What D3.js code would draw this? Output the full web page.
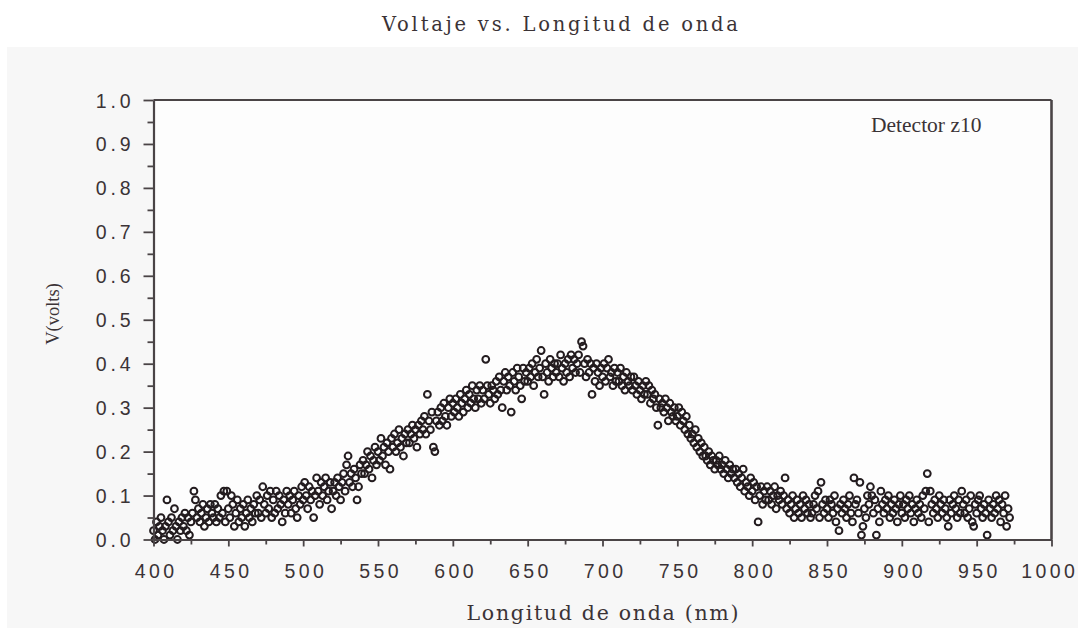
<!DOCTYPE html>
<html>
<head>
<meta charset="utf-8">
<script src="https://cdn.jsdelivr.net/npm/d3@7"></script>
<style>
  html, body { margin: 0; padding: 0; background: #ffffff; }
  svg { display: block; }
</style>
</head>
<body>
<svg id="chart" width="1078" height="628"></svg>
<script>
// Spectral scan: detector voltage sampled every nanometre starting at 400 nm
const scanStart = 400;
const scanStep = 1;

// Measured voltage (V), one row per 10 nm
const voltage = [
  0.02,0.00,0.04,0.01,0.03,0.05,0.02,0.00,0.03,0.09,
  0.04,0.01,0.05,0.02,0.07,0.03,0.00,0.04,0.02,0.05,
  0.03,0.06,0.02,0.05,0.01,0.04,0.06,0.11,0.09,0.05,
  0.07,0.04,0.06,0.08,0.03,0.05,0.07,0.04,0.08,0.06,
  0.05,0.08,0.04,0.07,0.05,0.10,0.06,0.11,0.04,0.11,
  0.07,0.05,0.10,0.08,0.03,0.06,0.09,0.04,0.07,0.05,
  0.08,0.03,0.06,0.09,0.05,0.07,0.04,0.08,0.06,0.10,
  0.06,0.09,0.05,0.12,0.08,0.06,0.10,0.07,0.11,0.05,
  0.09,0.06,0.11,0.07,0.10,0.08,0.04,0.09,0.06,0.11,
  0.08,0.10,0.06,0.09,0.11,0.07,0.05,0.10,0.08,0.12,
  0.09,0.13,0.10,0.07,0.12,0.09,0.11,0.05,0.10,0.14,
  0.11,0.08,0.13,0.10,0.12,0.14,0.09,0.11,0.13,0.07,
  0.11,0.13,0.10,0.14,0.12,0.09,0.13,0.15,0.11,0.17,
  0.19,0.13,0.15,0.12,0.16,0.14,0.09,0.12,0.17,0.15,
  0.18,0.15,0.17,0.20,0.16,0.19,0.14,0.18,0.21,0.17,
  0.20,0.18,0.23,0.19,0.21,0.17,0.22,0.20,0.16,0.23,
  0.21,0.24,0.20,0.22,0.25,0.21,0.23,0.19,0.24,0.22,
  0.25,0.22,0.24,0.26,0.23,0.25,0.21,0.26,0.24,0.27,
  0.25,0.28,0.24,0.33,0.27,0.25,0.29,0.21,0.20,0.27,
  0.29,0.26,0.30,0.27,0.31,0.28,0.26,0.30,0.32,0.28,
  0.31,0.29,0.32,0.30,0.28,0.33,0.31,0.29,0.32,0.34,
  0.30,0.33,0.31,0.35,0.32,0.30,0.34,0.32,0.35,0.31,
  0.34,0.32,0.41,0.35,0.33,0.31,0.35,0.34,0.32,0.36,
  0.33,0.37,0.34,0.30,0.36,0.38,0.34,0.37,0.35,0.29,
  0.38,0.36,0.34,0.39,0.37,0.35,0.32,0.39,0.36,0.38,
  0.36,0.39,0.37,0.40,0.35,0.38,0.41,0.37,0.39,0.43,
  0.37,0.33,0.40,0.38,0.36,0.41,0.39,0.37,0.40,0.38,
  0.40,0.37,0.42,0.39,0.36,0.40,0.38,0.41,0.37,0.42,
  0.39,0.41,0.38,0.40,0.42,0.38,0.45,0.44,0.40,0.37,
  0.41,0.38,0.40,0.33,0.39,0.36,0.40,0.38,0.35,0.39,
  0.37,0.40,0.36,0.39,0.41,0.37,0.38,0.35,0.39,0.36,
  0.38,0.36,0.39,0.35,0.37,0.34,0.38,0.36,0.35,0.37,
  0.34,0.37,0.35,0.33,0.36,0.34,0.32,0.35,0.33,0.36,
  0.33,0.35,0.31,0.34,0.32,0.33,0.30,0.26,0.32,0.30,
  0.31,0.29,0.32,0.30,0.27,0.31,0.29,0.28,0.30,0.27,
  0.28,0.30,0.26,0.29,0.27,0.25,0.28,0.24,0.26,0.23,
  0.24,0.22,0.25,0.21,0.23,0.20,0.22,0.19,0.21,0.19,
  0.18,0.20,0.17,0.19,0.18,0.16,0.18,0.17,0.19,0.16,
  0.17,0.15,0.18,0.16,0.14,0.17,0.15,0.16,0.14,0.16,
  0.13,0.15,0.12,0.14,0.16,0.11,0.13,0.12,0.10,0.14,
  0.11,0.13,0.09,0.12,0.04,0.10,0.12,0.08,0.11,0.09,
  0.12,0.09,0.11,0.08,0.10,0.12,0.07,0.10,0.09,0.11,
  0.08,0.10,0.14,0.07,0.09,0.06,0.08,0.10,0.05,0.07,
  0.09,0.06,0.08,0.05,0.10,0.07,0.09,0.06,0.08,0.05,
  0.06,0.08,0.10,0.07,0.11,0.05,0.13,0.08,0.06,0.09,
  0.07,0.05,0.09,0.08,0.06,0.10,0.04,0.07,0.02,0.08,
  0.06,0.09,0.07,0.05,0.08,0.10,0.06,0.04,0.14,0.08,
  0.09,0.06,0.13,0.01,0.03,0.07,0.05,0.10,0.08,0.12,
  0.10,0.06,0.09,0.01,0.07,0.04,0.11,0.08,0.06,0.09,
  0.07,0.10,0.05,0.08,0.06,0.09,0.07,0.04,0.08,0.10,
  0.06,0.08,0.05,0.09,0.07,0.10,0.06,0.08,0.04,0.07,
  0.09,0.06,0.08,0.05,0.10,0.07,0.11,0.15,0.04,0.11,
  0.08,0.06,0.09,0.07,0.05,0.10,0.08,0.06,0.09,0.07,
  0.05,0.03,0.09,0.06,0.08,0.10,0.07,0.05,0.09,0.06,
  0.11,0.08,0.06,0.09,0.05,0.07,0.10,0.04,0.03,0.08,
  0.06,0.09,0.10,0.07,0.05,0.08,0.06,0.01,0.09,0.07,
  0.05,0.08,0.06,0.10,0.07,0.09,0.04,0.08,0.06,0.10,
  0.03,0.07,0.05
];

// Axis ticks
const xMajorTicks = [400, 450, 500, 550, 600, 650, 700, 750, 800, 850, 900, 950, 1000];
const xMinorTicks = [425, 475, 525, 575, 625, 675, 725, 775, 825, 875, 925, 975];
const yMajorTicks = [0.0, 0.1, 0.2, 0.3, 0.4, 0.5, 0.6, 0.7, 0.8, 0.9, 1.0];
const yMinorTicks = [0.05, 0.15, 0.25, 0.35, 0.45, 0.55, 0.65, 0.75, 0.85, 0.95];

// Texts
const chartTitle = "Voltaje vs. Longitud de onda";
const xTitle = "Longitud de onda (nm)";
const yTitle = "V(volts)";
const seriesLabel = "Detector z10";

const points = voltage.map((v, i) => ({ nm: scanStart + i * scanStep, v }));

const svg = d3.select("#chart");
const plot = { left: 153.5, right: 1051.5, top: 100, bottom: 539.5 };
const ink = "#3b3336";
const axisInk = "#4a4446";

const x = d3.scaleLinear().domain([400, 1000]).range([plot.left, plot.right]);
const y = d3.scaleLinear().domain([0, 1]).range([plot.bottom, plot.top]);

// Widen the gaps between glyphs without adding trailing space after the last one
function spreadLetters(selection, gap) {
  selection.each(function () {
    const n = this.textContent.length;
    const w = this.getComputedTextLength();
    d3.select(this)
      .attr("textLength", w + (n - 1) * gap)
      .attr("lengthAdjust", "spacing");
  });
}

// Panel and plotting area backgrounds
svg.append("rect").attr("x", 7).attr("y", 47).attr("width", 1071).attr("height", 581)
  .attr("fill", "#f7f7f7");
svg.append("rect")
  .attr("x", plot.left).attr("y", plot.top)
  .attr("width", plot.right - plot.left).attr("height", plot.bottom - plot.top)
  .attr("fill", "#fdfdfd");

// Scatter of open circles
svg.append("g")
  .selectAll("circle")
  .data(points)
  .join("circle")
  .attr("cx", d => x(d.nm))
  .attr("cy", d => y(d.v))
  .attr("r", 3.4)
  .attr("fill", "none")
  .attr("stroke", "#231c1f")
  .attr("stroke-width", 2);

// Frame: top and right border lines
svg.append("line")
  .attr("x1", plot.left).attr("x2", plot.right)
  .attr("y1", plot.top).attr("y2", plot.top)
  .attr("stroke", axisInk).attr("stroke-width", 2.2);
svg.append("line")
  .attr("x1", plot.right).attr("x2", plot.right)
  .attr("y1", plot.top).attr("y2", plot.bottom)
  .attr("stroke", axisInk).attr("stroke-width", 2.6);

// X axis
const xAxis = svg.append("g")
  .attr("transform", `translate(0,${plot.bottom})`)
  .call(d3.axisBottom(x).tickValues(xMajorTicks).tickSize(7).tickSizeOuter(0)
    .tickFormat(d3.format("d")));
svg.append("g")
  .attr("transform", `translate(0,${plot.bottom})`)
  .call(d3.axisBottom(x).tickValues(xMinorTicks).tickSize(5).tickSizeOuter(0).tickFormat(""))
  .call(g => g.select(".domain").remove());

// Y axis
const yAxis = svg.append("g")
  .attr("transform", `translate(${plot.left},0)`)
  .call(d3.axisLeft(y).tickValues(yMajorTicks).tickSize(10).tickSizeOuter(0)
    .tickFormat(d3.format(".1f")));
svg.append("g")
  .attr("transform", `translate(${plot.left},0)`)
  .call(d3.axisLeft(y).tickValues(yMinorTicks).tickSize(6).tickSizeOuter(0).tickFormat(""))
  .call(g => g.select(".domain").remove());

svg.selectAll(".domain").attr("stroke", axisInk).attr("stroke-width", 2.2);
svg.selectAll(".tick line").attr("stroke", axisInk).attr("stroke-width", 1.8);

// The last label sits against the right edge, so it is pulled slightly inward
const lastX = xMajorTicks[xMajorTicks.length - 1];
xAxis.selectAll(".tick text")
  .attr("y", 0).attr("dy", 0)
  .attr("transform", d => `translate(${d === lastX ? -4 : 0.5},38.5)`)
  .attr("fill", ink)
  .style("font-family", "'Liberation Sans', Arial, sans-serif")
  .style("font-size", "19.5px")
  .call(spreadLetters, 3.4);

yAxis.selectAll(".tick text")
  .attr("x", -23).attr("dy", 0)
  .attr("transform", "translate(0,7)")
  .attr("fill", ink)
  .style("font-family", "'Liberation Sans', Arial, sans-serif")
  .style("font-size", "19.5px")
  .call(spreadLetters, 3.8);

// Titles
svg.append("text")
  .attr("x", 560).attr("y", 30.7)
  .attr("text-anchor", "middle")
  .attr("textLength", 356).attr("lengthAdjust", "spacing")
  .attr("fill", ink)
  .style("font-family", "'DejaVu Serif', serif")
  .style("font-size", "19.5px")
  .text(chartTitle);

svg.append("text")
  .attr("x", 602.5).attr("y", 620)
  .attr("text-anchor", "middle")
  .attr("textLength", 272).attr("lengthAdjust", "spacing")
  .attr("fill", ink)
  .style("font-family", "'DejaVu Serif', serif")
  .style("font-size", "20.5px")
  .text(xTitle);

svg.append("text")
  .attr("transform", "translate(58.5,314) rotate(-90)")
  .attr("text-anchor", "middle")
  .attr("fill", ink)
  .style("font-family", "'Liberation Serif', 'Times New Roman', serif")
  .style("font-size", "18.5px")
  .text(yTitle);

svg.append("text")
  .attr("x", 871).attr("y", 132)
  .attr("fill", ink)
  .style("font-family", "'Liberation Serif', 'Times New Roman', serif")
  .style("font-size", "21.5px")
  .text(seriesLabel);
</script>
</body>
</html>
